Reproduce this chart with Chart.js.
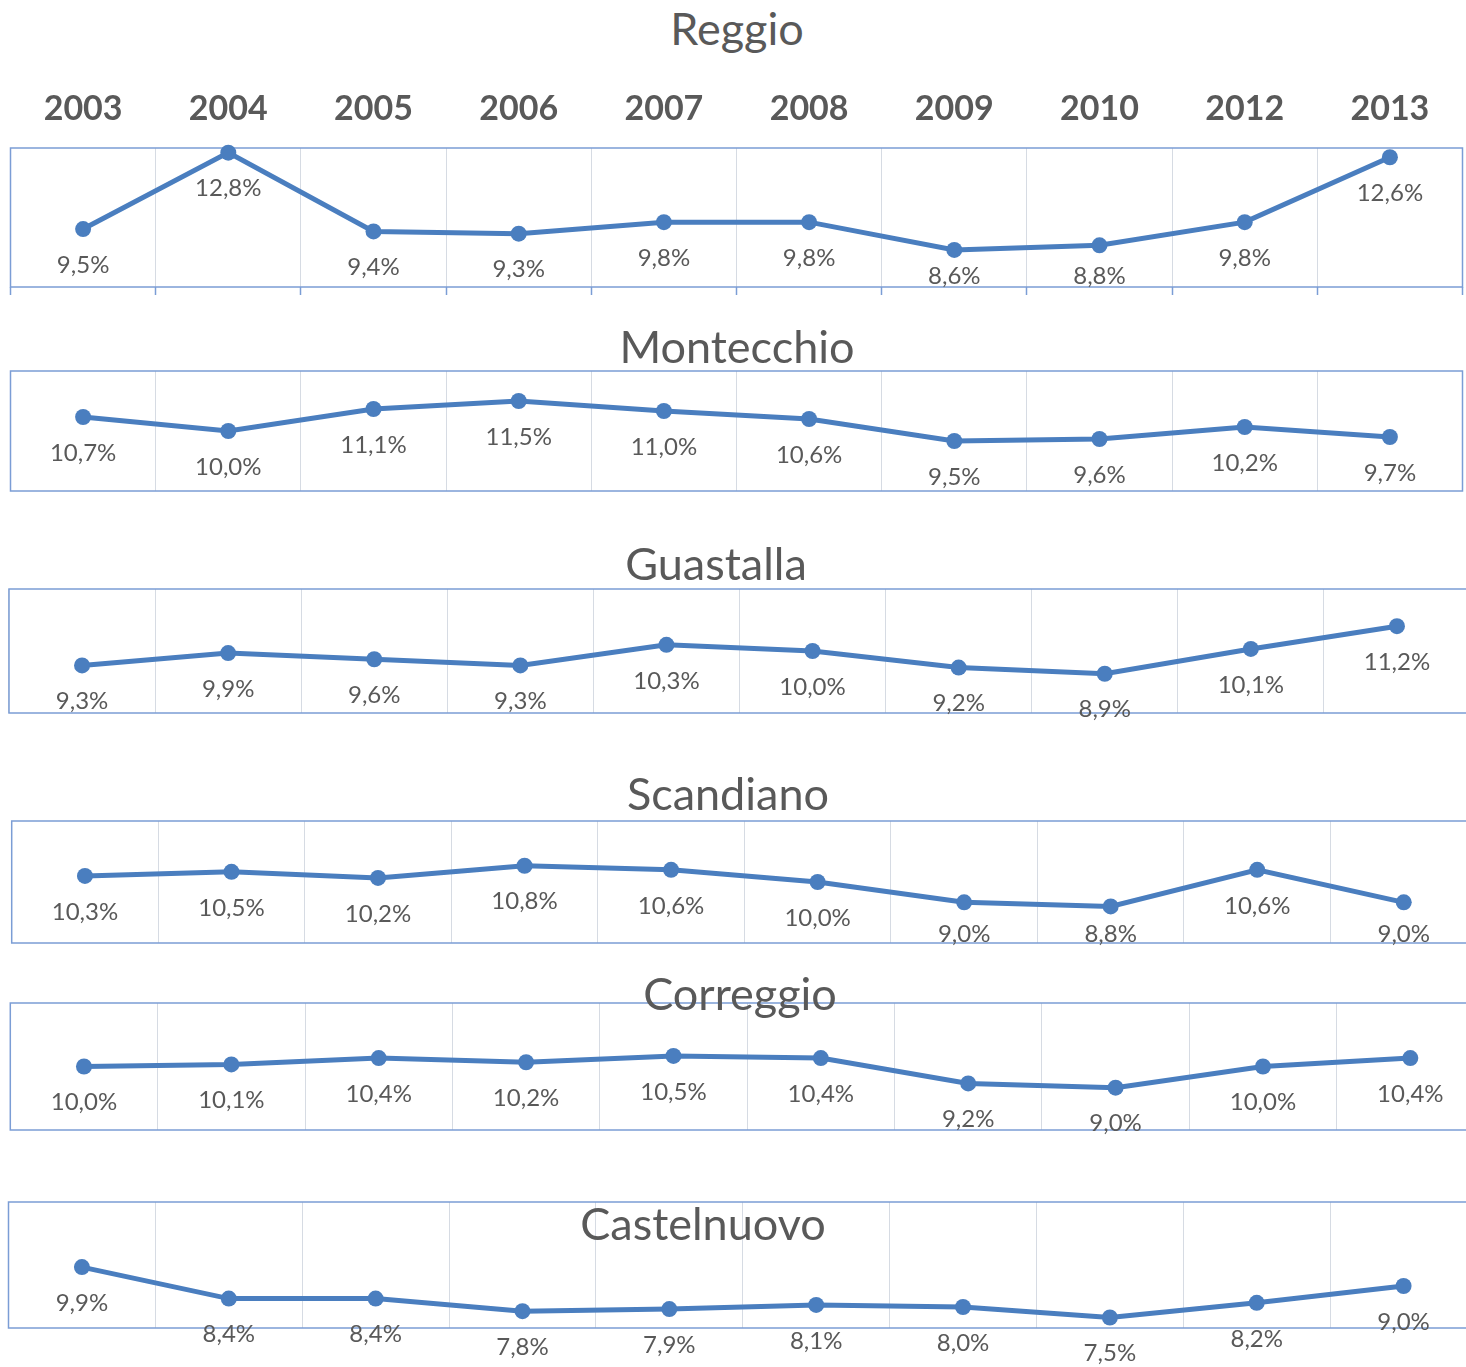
<!DOCTYPE html>
<html>
<head>
<meta charset="utf-8">
<script src="https://cdn.jsdelivr.net/npm/chart.js@4.4.0/dist/chart.umd.min.js"></script>
<style>
  html, body { margin: 0; padding: 0; background: #fff; overflow: hidden; }
  body { width: 1466px; height: 1367px; position: relative; }
  .panel { position: absolute; left: 0; }
  .title { position: absolute; font-family: Lato, sans-serif; font-size: 45px; color: #595959;
           transform: translate(-50%, -50%); line-height: 1; white-space: nowrap; z-index: 5; }
</style>
</head>
<body>
<script>
// data
var years = ["2003", "2004", "2005", "2006", "2007", "2008", "2009", "2010", "2012", "2013"];
var reggio = [9.5, 12.8, 9.4, 9.3, 9.8, 9.8, 8.6, 8.8, 9.8, 12.6];
var montecchio = [10.7, 10.0, 11.1, 11.5, 11.0, 10.6, 9.5, 9.6, 10.2, 9.7];
var guastalla = [9.3, 9.9, 9.6, 9.3, 10.3, 10.0, 9.2, 8.9, 10.1, 11.2];
var scandiano = [10.3, 10.5, 10.2, 10.8, 10.6, 10.0, 9.0, 8.8, 10.6, 9.0];
var correggio = [10.0, 10.1, 10.4, 10.2, 10.5, 10.4, 9.2, 9.0, 10.0, 10.4];
var castelnuovo = [9.9, 8.4, 8.4, 7.8, 7.9, 8.1, 8.0, 7.5, 8.2, 9.0];
var yMin = 7, yMax = 13;

var lineColor = "#4a7ebf";
var boxColor = "#7b9dd5";
var gridColor = "#d6dbe3";
var textColor = "#595959";

// where each small chart sits on the page: plot box [left, top, right, bottom], title centre,
// and (for some) how far below the box bottom the value labels may go
var panels = [
    { name: "Reggio", values: reggio, box: [10.5, 148, 1462.5, 287], title: [737, 28], years: true, labelFloor: -11 },
    { name: "Montecchio", values: montecchio, box: [10.5, 371, 1462.5, 491], title: [737, 346] },
    { name: "Guastalla", values: guastalla, box: [9, 589, 1470, 713], title: [716, 563] },
    { name: "Scandiano", values: scandiano, box: [11.7, 821, 1477, 943], title: [728, 793], labelFloor: -9 },
    { name: "Correggio", values: correggio, box: [10.3, 1003, 1484, 1130], title: [740, 993] },
    { name: "Castelnuovo", values: castelnuovo, box: [8.5, 1202, 1477, 1328], title: [703, 1223] }
];

function fmt(v) {
    return v.toFixed(1).replace(".", ",") + "%";
}

// value labels under every point
const pointLabels = {
    id: "pointLabels",
    afterDatasetsDraw(chart, args, opts) {
        const ctx = chart.ctx;
        const meta = chart.getDatasetMeta(0);
        const data = chart.data.datasets[0].data;
        const floor = opts.floor;
        ctx.save();
        ctx.font = "24px Lato";
        ctx.fillStyle = textColor;
        ctx.textAlign = "center";
        ctx.textBaseline = "middle";
        meta.data.forEach((pt, i) => {
            var y = pt.y + 36;
            if (floor !== undefined && floor !== null) y = Math.min(y, chart.chartArea.bottom + floor);
            ctx.fillText(fmt(data[i]), pt.x, y);
        });
        ctx.restore();
    }
};

// blue frame round the plot area
const plotBox = {
    id: "plotBox",
    beforeDatasetsDraw(chart) {
        const a = chart.chartArea;
        const ctx = chart.ctx;
        ctx.save();
        ctx.strokeStyle = boxColor;
        ctx.lineWidth = 1.5;
        ctx.strokeRect(a.left, a.top, a.right - a.left, a.bottom - a.top);
        ctx.restore();
    }
};

panels.forEach(function (p) {
    var l = p.box[0], t = p.box[1], r = p.box[2], b = p.box[3];
    var padTop = 40, padBottom = 50;
    if (p.years) padTop = 88;
    var w = Math.max(1466, Math.ceil(r) + 12);
    var h = (b - t) + padTop + padBottom;

    var holder = document.createElement("div");
    holder.className = "panel";
    holder.style.top = (t - padTop) + "px";
    var canvas = document.createElement("canvas");
    canvas.width = w;
    canvas.height = h;
    holder.appendChild(canvas);
    document.body.appendChild(holder);

    var title = document.createElement("div");
    title.className = "title";
    title.textContent = p.name;
    title.style.left = p.title[0] + "px";
    title.style.top = p.title[1] + "px";
    document.body.appendChild(title);

    var scales = {
        x: {
            type: "category",
            position: "bottom",
            offset: true,
            ticks: { display: false },
            border: { display: false },
            grid: {
                color: gridColor,
                lineWidth: 1,
                offset: true,
                drawTicks: !!p.years,
                tickLength: 8,
                tickColor: boxColor,
                tickWidth: 1.5
            },
            afterFit: function (s) { s.height = p.years ? 8 : 0; }
        },
        y: { display: false, min: yMin, max: yMax }
    };
    if (p.years) {
        scales.xTop = {
            type: "category",
            position: "top",
            offset: true,
            labels: years,
            border: { display: false },
            grid: { display: false, drawTicks: false },
            ticks: {
                color: textColor,
                font: { family: "Lato", size: 34, weight: "bold" },
                padding: 19,
                maxRotation: 0,
                autoSkip: false
            },
            afterFit: function (s) { s.height = padTop; }
        };
    }

    new Chart(canvas, {
        type: "line",
        data: {
            labels: years,
            datasets: [{
                data: p.values,
                borderColor: lineColor,
                backgroundColor: lineColor,
                borderWidth: 5,
                pointRadius: 8,
                pointBorderWidth: 0,
                pointBackgroundColor: lineColor,
                tension: 0,
                clip: false
            }]
        },
        options: {
            responsive: false,
            animation: false,
            layout: {
                autoPadding: false,
                padding: {
                    left: l,
                    top: p.years ? 0 : padTop,
                    right: w - r,
                    bottom: p.years ? padBottom - 8 : padBottom
                }
            },
            plugins: {
                legend: { display: false },
                tooltip: { enabled: false },
                pointLabels: { floor: p.labelFloor }
            },
            scales: scales
        },
        plugins: [plotBox, pointLabels]
    });
});
</script>
</body>
</html>
